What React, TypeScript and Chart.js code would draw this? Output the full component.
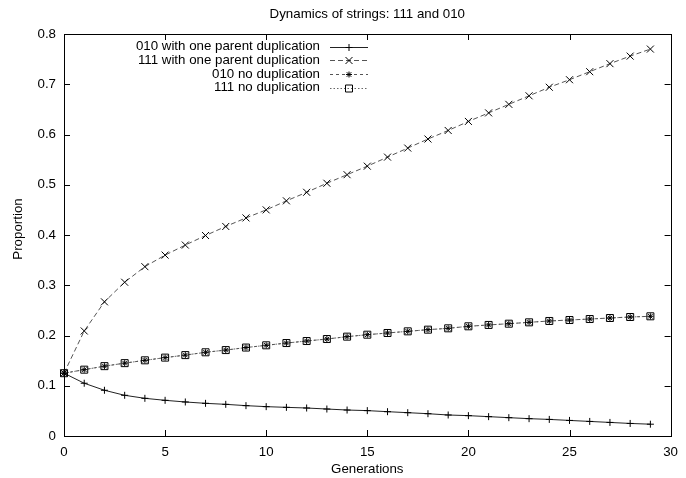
import React, { useEffect, useRef } from "react";
import { Chart, registerables } from "chart.js";

Chart.register(...registerables);

const TITLE = "Dynamics of strings: 111 and 010";
const X_TITLE = "Generations";
const Y_TITLE = "Proportion";

const generations = Array.from({ length: 30 }, (_, i) => i);

const dup010 = [
  0.125, 0.105, 0.091, 0.081, 0.075, 0.071, 0.0677, 0.065, 0.063, 0.0604,
  0.0584, 0.057, 0.0557, 0.0537, 0.0517, 0.0505, 0.0484, 0.0464, 0.0444, 0.0418,
  0.0405, 0.0385, 0.0365, 0.0345, 0.033, 0.031, 0.029, 0.027, 0.025, 0.0235,
];

const dup111 = [
  0.125, 0.209, 0.267, 0.306, 0.337, 0.36, 0.38, 0.399, 0.417, 0.434,
  0.45, 0.468, 0.485, 0.503, 0.52, 0.537, 0.555, 0.573, 0.591, 0.608,
  0.626, 0.643, 0.66, 0.677, 0.694, 0.709, 0.725, 0.741, 0.756, 0.77,
];

const noDup010 = [
  0.125, 0.132, 0.139, 0.145, 0.1506, 0.156, 0.161, 0.1666, 0.171, 0.176,
  0.1805, 0.185, 0.189, 0.193, 0.1977, 0.2016, 0.205, 0.2083, 0.2116, 0.2143,
  0.2183, 0.221, 0.2235, 0.2262, 0.2289, 0.2308, 0.2328, 0.2348, 0.2368, 0.2382,
];

const noDup111 = [
  0.125, 0.132, 0.139, 0.145, 0.1506, 0.156, 0.161, 0.1666, 0.171, 0.176,
  0.1805, 0.185, 0.189, 0.193, 0.1977, 0.2016, 0.205, 0.2083, 0.2116, 0.2143,
  0.2183, 0.221, 0.2235, 0.2262, 0.2289, 0.2308, 0.2328, 0.2348, 0.2368, 0.2382,
];

const seriesLabels = [
  "010 with one parent duplication",
  "111 with one parent duplication",
  "010 no duplication",
  "111 no duplication",
];

const X_MIN = 0, X_MAX = 30, X_STEP = 5;
const Y_MIN = 0, Y_MAX = 0.8, Y_STEP = 0.1;

const FONT = '"Liberation Sans", Arial, Helvetica, sans-serif';
const FONT_SIZE = 13.3;

type MarkerKind = "plus" | "x" | "star" | "square";

function drawMarker(ctx: CanvasRenderingContext2D, kind: MarkerKind, x: number, y: number) {
  ctx.save();
  ctx.setLineDash([]);
  ctx.strokeStyle = "#000";
  ctx.lineWidth = 1;
  ctx.beginPath();
  if (kind === "plus") {
    const r = 3.5;
    ctx.moveTo(x - r, y); ctx.lineTo(x + r, y);
    ctx.moveTo(x, y - r); ctx.lineTo(x, y + r);
  } else if (kind === "x") {
    const r = 3.5;
    ctx.moveTo(x - r, y - r); ctx.lineTo(x + r, y + r);
    ctx.moveTo(x - r, y + r); ctx.lineTo(x + r, y - r);
  } else if (kind === "star") {
    const r = 3;
    ctx.moveTo(x - r, y); ctx.lineTo(x + r, y);
    ctx.moveTo(x, y - r); ctx.lineTo(x, y + r);
    const d = r * 0.75;
    ctx.moveTo(x - d, y - d); ctx.lineTo(x + d, y + d);
    ctx.moveTo(x - d, y + d); ctx.lineTo(x + d, y - d);
  } else {
    const r = 3.5;
    ctx.rect(x - r, y - r, 2 * r, 2 * r);
  }
  ctx.stroke();
  ctx.restore();
}

const markerKinds: MarkerKind[] = ["plus", "x", "star", "square"];
const lineDashes: number[][] = [[], [5, 3], [3, 3], [1.5, 2]];
const lineColors = ["#222", "#555", "#555", "#666"];

const gnuplotPlugin = {
  id: "gnuplotDecor",
  afterDatasetsDraw(chart: any) {
    const ctx: CanvasRenderingContext2D = chart.ctx;
    const { left, right, top, bottom } = chart.chartArea;
    const xs = chart.scales.x;
    const ys = chart.scales.y;

    // markers over the lines
    chart.data.datasets.forEach((ds: any, i: number) => {
      const meta = chart.getDatasetMeta(i);
      meta.data.forEach((pt: any) => drawMarker(ctx, markerKinds[i], pt.x, pt.y));
    });

    // border
    ctx.save();
    ctx.strokeStyle = "#000";
    ctx.lineWidth = 1;
    ctx.setLineDash([]);
    ctx.strokeRect(Math.round(left) + 0.5, Math.round(top) + 0.5, Math.round(right - left), Math.round(bottom - top));

    // inward ticks
    const tl = 6;
    ctx.beginPath();
    for (let v = X_MIN; v <= X_MAX + 1e-9; v += X_STEP) {
      const px = Math.round(xs.getPixelForValue(v)) + 0.5;
      ctx.moveTo(px, bottom); ctx.lineTo(px, bottom - tl);
      ctx.moveTo(px, top); ctx.lineTo(px, top + tl);
    }
    for (let v = Y_MIN; v <= Y_MAX + 1e-9; v += Y_STEP) {
      const py = Math.round(ys.getPixelForValue(v)) + 0.5;
      ctx.moveTo(left, py); ctx.lineTo(left + tl, py);
      ctx.moveTo(right, py); ctx.lineTo(right - tl, py);
    }
    ctx.stroke();

    // titles
    ctx.fillStyle = "#000";
    ctx.font = `${FONT_SIZE}px ${FONT}`;
    ctx.textAlign = "center";
    ctx.textBaseline = "middle";
    const cx = (left + right) / 2;
    ctx.fillText(TITLE, cx, 14);
    ctx.fillText(X_TITLE, cx, chart.height - 9);
    ctx.save();
    ctx.translate(18, (top + bottom) / 2 - 6);
    ctx.rotate(-Math.PI / 2);
    ctx.fillText(Y_TITLE, 0, 0);
    ctx.restore();

    // legend
    const textRight = left + 256;
    const lineStart = left + 266;
    const lineEnd = left + 304;
    const row0 = top + 12.5;
    const rowH = 13.7;
    chart.data.datasets.forEach((ds: any, i: number) => {
      const y = row0 + i * rowH;
      ctx.textAlign = "right";
      ctx.fillStyle = "#000";
      ctx.fillText(ds.label, textRight, y);
      ctx.save();
      ctx.strokeStyle = lineColors[i];
      ctx.lineWidth = 1;
      ctx.setLineDash(lineDashes[i]);
      ctx.beginPath();
      ctx.moveTo(lineStart, Math.round(y) + 0.5);
      ctx.lineTo(lineEnd, Math.round(y) + 0.5);
      ctx.stroke();
      ctx.restore();
      drawMarker(ctx, markerKinds[i], (lineStart + lineEnd) / 2, Math.round(y) + 0.5);
    });
    ctx.restore();
  },
};

export default function App() {
  const ref = useRef<HTMLCanvasElement | null>(null);

  useEffect(() => {
    document.body.style.margin = "0";
    const canvas = ref.current;
    if (!canvas) return;
    const series = [dup010, dup111, noDup010, noDup111];
    const datasets = series.map((vals, i) => ({
      label: seriesLabels[i],
      data: generations.map((g, j) => ({ x: g, y: vals[j] })),
      borderColor: lineColors[i],
      borderWidth: 1,
      borderDash: lineDashes[i],
      pointRadius: 0,
      pointHoverRadius: 0,
      fill: false,
      tension: 0,
    }));
    const chart = new Chart(canvas, {
      type: "line",
      data: { datasets },
      options: {
        animation: false,
        responsive: false,
        maintainAspectRatio: false,
        layout: { padding: { top: 34, right: 14, left: 0, bottom: 0 } },
        plugins: {
          legend: { display: false },
          title: { display: false },
          tooltip: { enabled: false },
        },
        scales: {
          x: {
            type: "linear",
            min: X_MIN,
            max: X_MAX,
            grid: { display: false, drawTicks: false },
            border: { display: false },
            ticks: {
              stepSize: X_STEP,
              color: "#000",
              font: { family: FONT, size: FONT_SIZE },
              padding: 8,
              maxRotation: 0,
            },
            afterFit: (s: any) => { s.height = 42; },
          },
          y: {
            type: "linear",
            min: Y_MIN,
            max: Y_MAX,
            grid: { display: false, drawTicks: false },
            border: { display: false },
            ticks: {
              stepSize: Y_STEP,
              color: "#000",
              font: { family: FONT, size: FONT_SIZE },
              padding: 8,
              callback: (v: any) => {
                const n = Math.round(Number(v) * 10) / 10;
                return n === 0 ? "0" : n.toFixed(1);
              },
            },
            afterFit: (s: any) => { s.width = 64; },
          },
        },
      },
      plugins: [gnuplotPlugin],
    });
    return () => chart.destroy();
  }, []);

  return (
    <div style={{ position: "fixed", left: 0, top: 0, width: 686, height: 478 }}>
      <canvas ref={ref} width={686} height={478} style={{ display: "block", width: 686, height: 478 }} />
    </div>
  );
}
